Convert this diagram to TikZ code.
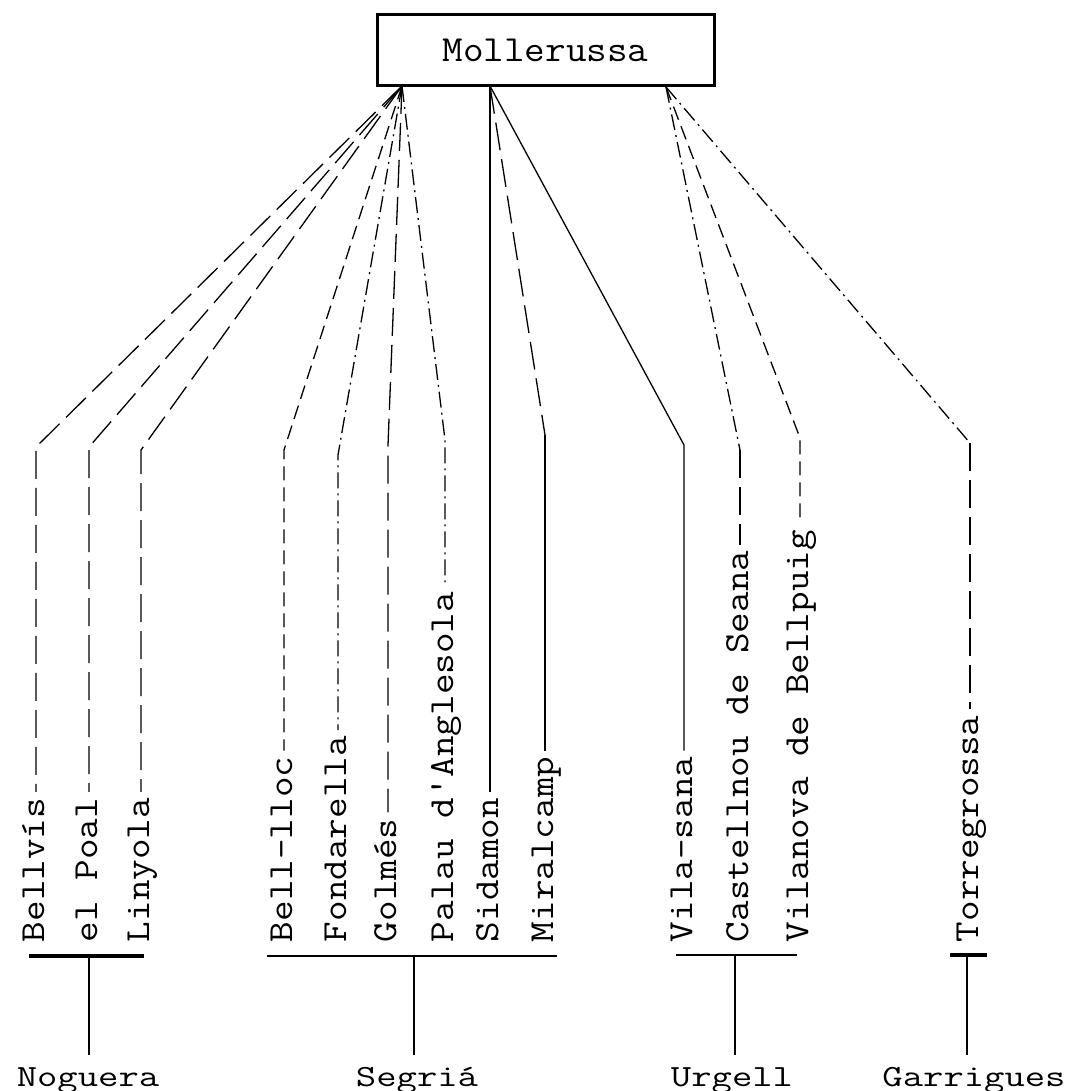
\documentclass[tikz,border=0pt]{standalone}
\usepackage{fontspec}
\usepackage{graphicx}
\usetikzlibrary{calc}
\newcommand\tscale[1]{\scalebox{1}[0.88]{#1}}
\newcommand\rscale[1]{\scalebox{1}[0.78]{#1}}
\begin{document}
\begin{tikzpicture}[x=1pt,y=-1pt,
  conn/.style={line width=1.3pt},
  ldash/.style={conn, dash pattern=on 28pt off 9pt},
  mdash/.style={conn, dash pattern=on 14pt off 7pt},
  ddot/.style={conn, dash pattern=on 16pt off 5pt on 2pt off 5pt},
  toend/.style={shorten >=6pt},
  town/.style={rotate=90, anchor=base west, inner sep=0pt, outer sep=0pt, font=\fontsize{40}{40}\selectfont\ttfamily},
  region/.style={anchor=base, inner sep=0pt, outer sep=0pt, text height=19pt, text depth=0pt, font=\fontsize{39.5}{40}\selectfont\ttfamily},
  barln/.style={line width=2pt},
  thickbar/.style={line width=3.5pt},
  stem/.style={line width=1.3pt, shorten >=12pt}
]
\useasboundingbox (0,0) rectangle (1072,1091);

% central box
\node[draw, line width=3pt, minimum width=337pt, minimum height=71pt, inner sep=0pt,
      font=\fontsize{40}{40}\selectfont\ttfamily] (mol) at (545.5,50.5) {\scalebox{1}[0.92]{Mollerussa}};

% origins on the box
\coordinate (oL) at (402,86);
\coordinate (oM) at (490,86);
\coordinate (oR) at (666,87);

% corners
\coordinate (cBel) at (36,447);
\coordinate (cPoa) at (89,447);
\coordinate (cLin) at (141,450);
\coordinate (cBll) at (284,450);
\coordinate (cFon) at (338,455);
\coordinate (cGol) at (388,445);
\coordinate (cPal) at (445,440);
\coordinate (cMir) at (545,435);
\coordinate (cVil) at (684,445);
\coordinate (cCas) at (740,450);
\coordinate (cVnv) at (800,438);
\coordinate (cTor) at (970,443);

% town labels
\node[town] (bel) at (44,942) {\tscale{Bellvís}};
\node[town] (poa) at (97,942) {\tscale{el Poal}};
\node[town] (lin) at (149,942) {\tscale{Linyola}};
\node[town] (bll) at (292,942) {\tscale{Bell-lloc}};
\node[town] (fon) at (346,942) {\tscale{Fondarella}};
\node[town] (gol) at (396,942) {\tscale{Golmés}};
\node[town] (pal) at (453,942) {\tscale{Palau d'Anglesola}};
\node[town] (sid) at (498,942) {\tscale{Sidamon}};
\node[town] (mir) at (553,942) {\tscale{Miralcamp}};
\node[town] (vil) at (692,942) {\tscale{Vila-sana}};
\node[town] (cas) at (748,942) {\tscale{Castellnou de Seana}};
\node[town] (vnv) at (808,942) {\tscale{Vilanova de Bellpuig}};
\node[town] (tor) at (978,942) {\tscale{Torregrossa}};

% connectors
\draw[ldash, toend] (oL) -- (cBel) -- (cBel |- bel.east);
\draw[ldash, toend] (oL) -- (cPoa) -- (cPoa |- poa.east);
\draw[ldash, toend] (oL) -- (cLin) -- (cLin |- lin.east);
\draw[mdash, toend] (oL) -- (cBll) -- (cBll |- bll.east);
\draw[ddot, toend] (oL) -- (cFon) -- (cFon |- fon.east);
\draw[ldash, toend] (oL) -- (cGol) -- (cGol |- gol.east);
\draw[ddot, toend] (oL) -- (cPal) -- (cPal |- pal.east);
\draw[conn, toend] (oM) -- (oM |- sid.east);
\draw[ldash] (oM) -- (cMir);
\draw[conn, toend] (cMir) -- (cMir |- mir.east);
\draw[conn, toend] (oM) -- (cVil) -- (cVil |- vil.east);
\draw[ddot] (oR) -- (cCas);
\draw[ldash, toend] (cCas) -- (cCas |- cas.east);
\draw[mdash, toend] (oR) -- (cVnv) -- (cVnv |- vnv.east);
\draw[ddot] (oR) -- (cTor);
\draw[ldash, toend] (cTor) -- (cTor |- tor.east);

% region labels
\node[region] (nog) at (88,1086) {\rscale{Noguera}};
\node[region] (seg) at (417,1086) {\rscale{Segriá}};
\node[region] (urg) at (732,1086) {\rscale{Urgell}};
\node[region] (gar) at (974,1086) {\rscale{Garrigues}};

% brackets
\coordinate (nogA) at (29,956);  \coordinate (nogB) at (144,956); \coordinate (nogM) at (89,956);
\coordinate (segA) at (267,956); \coordinate (segB) at (557,956); \coordinate (segM) at (414,956);
\coordinate (urgA) at (676,955); \coordinate (urgB) at (797,955); \coordinate (urgM) at (735,955);
\coordinate (garA) at (950,955); \coordinate (garB) at (987,955); \coordinate (garM) at (967,955);

\draw[thickbar] (nogA) -- (nogB);
\draw[barln] (segA) -- (segB);
\draw[barln] (urgA) -- (urgB);
\draw[thickbar] (garA) -- (garB);

\draw[stem] (nogM) -- (nogM |- nog.north);
\draw[stem] (segM) -- (segM |- seg.north);
\draw[stem] (urgM) -- (urgM |- urg.north);
\draw[stem] (garM) -- (garM |- gar.north);
\end{tikzpicture}
\end{document}
